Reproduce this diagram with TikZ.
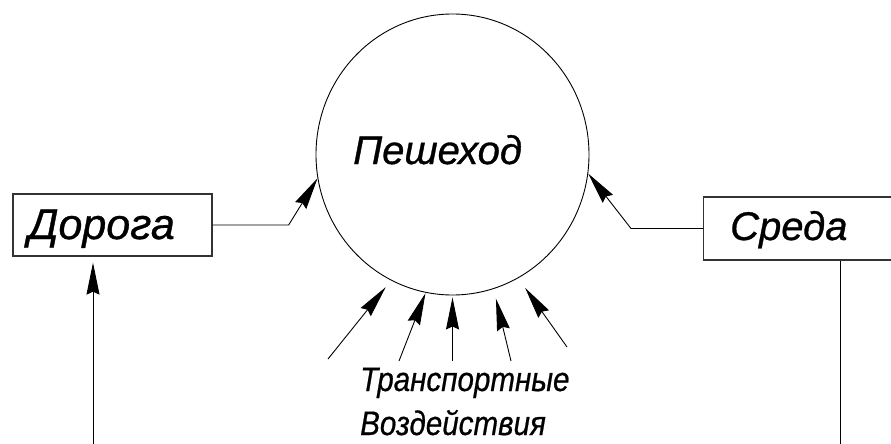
\documentclass[tikz,border=0pt]{standalone}
\usepackage{fontspec}
\setmainfont{Liberation Sans}[FakeBold=0.8]
\newfontfamily\narrowsans{Liberation Sans}[FakeStretch=0.87,FakeBold=0.6]
\usetikzlibrary{arrows.meta,shapes.geometric}
\tikzset{
  arr/.style={-{Stealth[length=32pt,width=13pt,inset=3pt]}},
  thinline/.style={draw=black,line width=0.9pt},
  boxstyle/.style={draw=black!80,line width=1.3pt,rectangle,inner sep=0pt},
  lab/.style={inner sep=0pt,anchor=base west},
}
\begin{document}
\begin{tikzpicture}[x=1pt,y=-1pt]
\useasboundingbox (0,0) rectangle (891,444);
\fill[white] (0,0) rectangle (891,444);
\clip (0,0) rectangle (891,444);
% main ellipse
\node[ellipse,draw=black,line width=0.9pt,minimum width=273pt,minimum height=281pt,inner sep=0pt] (p) at (452.5,154.5) {};
\node[lab,font=\fontsize{40}{42}\selectfont\itshape] (pt) at (353,164) {Пешеход};
% boxes
\node[boxstyle,minimum width=199pt,minimum height=62pt] (dor) at (112.5,225) {};
\node[lab,font=\fontsize{43}{45}\selectfont\itshape] (dort) at (28,239) {Дорога};
\node[boxstyle,minimum width=200pt,minimum height=63pt,anchor=west] (sr) at (703,228.5) {};
\node[lab,font=\fontsize{40}{42}\selectfont\itshape] (srt) at (730,240) {Среда};
% bottom text
\node[lab,font=\fontsize{34}{36}\narrowsans\itshape] (t1) at (360,391) {Транспортные};
\node[lab,font=\fontsize{34}{36}\narrowsans\itshape] (t2) at (360,435) {Воздействия};
% side connectors
\draw[thinline,arr] (dor.east) -- ++(76,0) -- (p.190.4);
\draw[thinline,arr] (sr.west) -- ++(-72,0) -- (p.352.6);
% vertical lines
\coordinate (d0) at (93,444);
\coordinate (s0) at (840,444);
\draw[thinline,arr,shorten >=6pt] (d0) -- (d0 |- dor.south);
\draw[thinline] (s0 |- sr.south) -- (s0);
% bottom arrows
\coordinate (a1) at (328,359);
\coordinate (a2) at (399,361);
\coordinate (a3) at (452.5,361);
\coordinate (a4) at (511,361);
\coordinate (a5) at (567,347);
\draw[thinline,arr,shorten >=8.5pt] (a1) -- (p.244.2);
\draw[thinline,arr,shorten >=0.5pt] (a2) -- (p.259.6);
\draw[thinline,arr,shorten >=2pt] (a3) -- (p.270);
\draw[thinline,arr,shorten >=10pt] (a4) -- (p.287.2);
\draw[thinline,arr,shorten >=12pt] (a5) -- (p.298.5);
\end{tikzpicture}
\end{document}
